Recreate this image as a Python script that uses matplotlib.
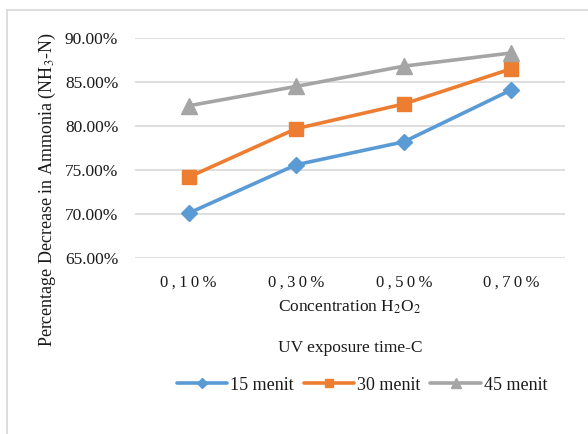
import matplotlib
matplotlib.use("Agg")
import matplotlib.pyplot as plt
from matplotlib.lines import Line2D
from matplotlib.ticker import FuncFormatter

plt.rcParams['font.family'] = ['Liberation Serif', 'DejaVu Serif']
plt.rcParams['mathtext.fontset'] = 'stix'

categories = ["0,10%", "0,30%", "0,50%", "0,70%"]
menit_15 = [70.1, 75.6, 78.2, 84.1]
menit_30 = [74.2, 79.7, 82.5, 86.5]
menit_45 = [82.3, 84.5, 86.8, 88.3]
series_names = ["15 menit", "30 menit", "45 menit"]
y_ticks = [65, 70, 75, 80, 85, 90]

colors = ["#5B9BD5", "#ED7D31", "#A5A5A5"]
markers = ["D", "s", "^"]
msizes = [8.5, 10.5, 11]

W, H = 588, 434
fig = plt.figure(figsize=(W / 100, H / 100), dpi=100)
ax = fig.add_axes([135 / W, 1 - 258 / H, 430 / W, 220 / H])

# chart-area border (top and left visible)
fig.add_artist(Line2D([7 / W, 1], [1 - 10 / H, 1 - 10 / H], color="#D9D9D9", lw=1.2))
fig.add_artist(Line2D([7 / W, 7 / W], [0, 1 - 10 / H], color="#D9D9D9", lw=1.2))

x = list(range(len(categories)))
for vals, c, m, ms, name in zip([menit_15, menit_30, menit_45], colors, markers, msizes, series_names):
    ax.plot(x, vals, color=c, lw=2.6, marker=m, ms=ms, markeredgecolor=c,
            label=name, zorder=3, solid_capstyle="round")

ax.set_xlim(-0.5, len(categories) - 0.5)
ax.set_ylim(65, 90)
ax.set_yticks(y_ticks)
ax.yaxis.set_major_formatter(FuncFormatter(lambda v, p: f"{v:.2f}%"))
ax.set_xticks(x)
ax.set_xticklabels(["\u2009".join(c) for c in categories])
ax.grid(axis="y", color="#D9D9D9", lw=1.2)
ax.set_axisbelow(True)
for s in ax.spines.values():
    s.set_visible(False)
ax.tick_params(length=0, labelsize=12.5, colors="#1a1a1a")
ax.tick_params(axis="x", labelsize=12, pad=12)
ax.tick_params(axis="y", pad=12)

fig.text(350 / W, 1 - 307 / H, "Concentration H$_2$O$_2$", ha="center", va="center",
         fontsize=12.5, color="#1a1a1a")
fig.text(350 / W, 1 - 348 / H, "UV exposure time-C", ha="center", va="center",
         fontsize=12.5, color="#1a1a1a")
fig.text(47 / W, 1 - 190 / H, "Percentage Decrease in Ammonia (NH$_3$-N)", ha="center",
         va="center", rotation=90, fontsize=13, color="#1a1a1a")

leg = fig.legend(loc="center", bbox_to_anchor=(362 / W, 1 - 385 / H), ncol=3, frameon=False,
                 handlelength=2.8, handletextpad=0.15, columnspacing=0.55, fontsize=13,
                 markerscale=0.6)
for t in leg.get_texts():
    t.set_color("#1a1a1a")

fig.savefig("out.png", dpi=100)
